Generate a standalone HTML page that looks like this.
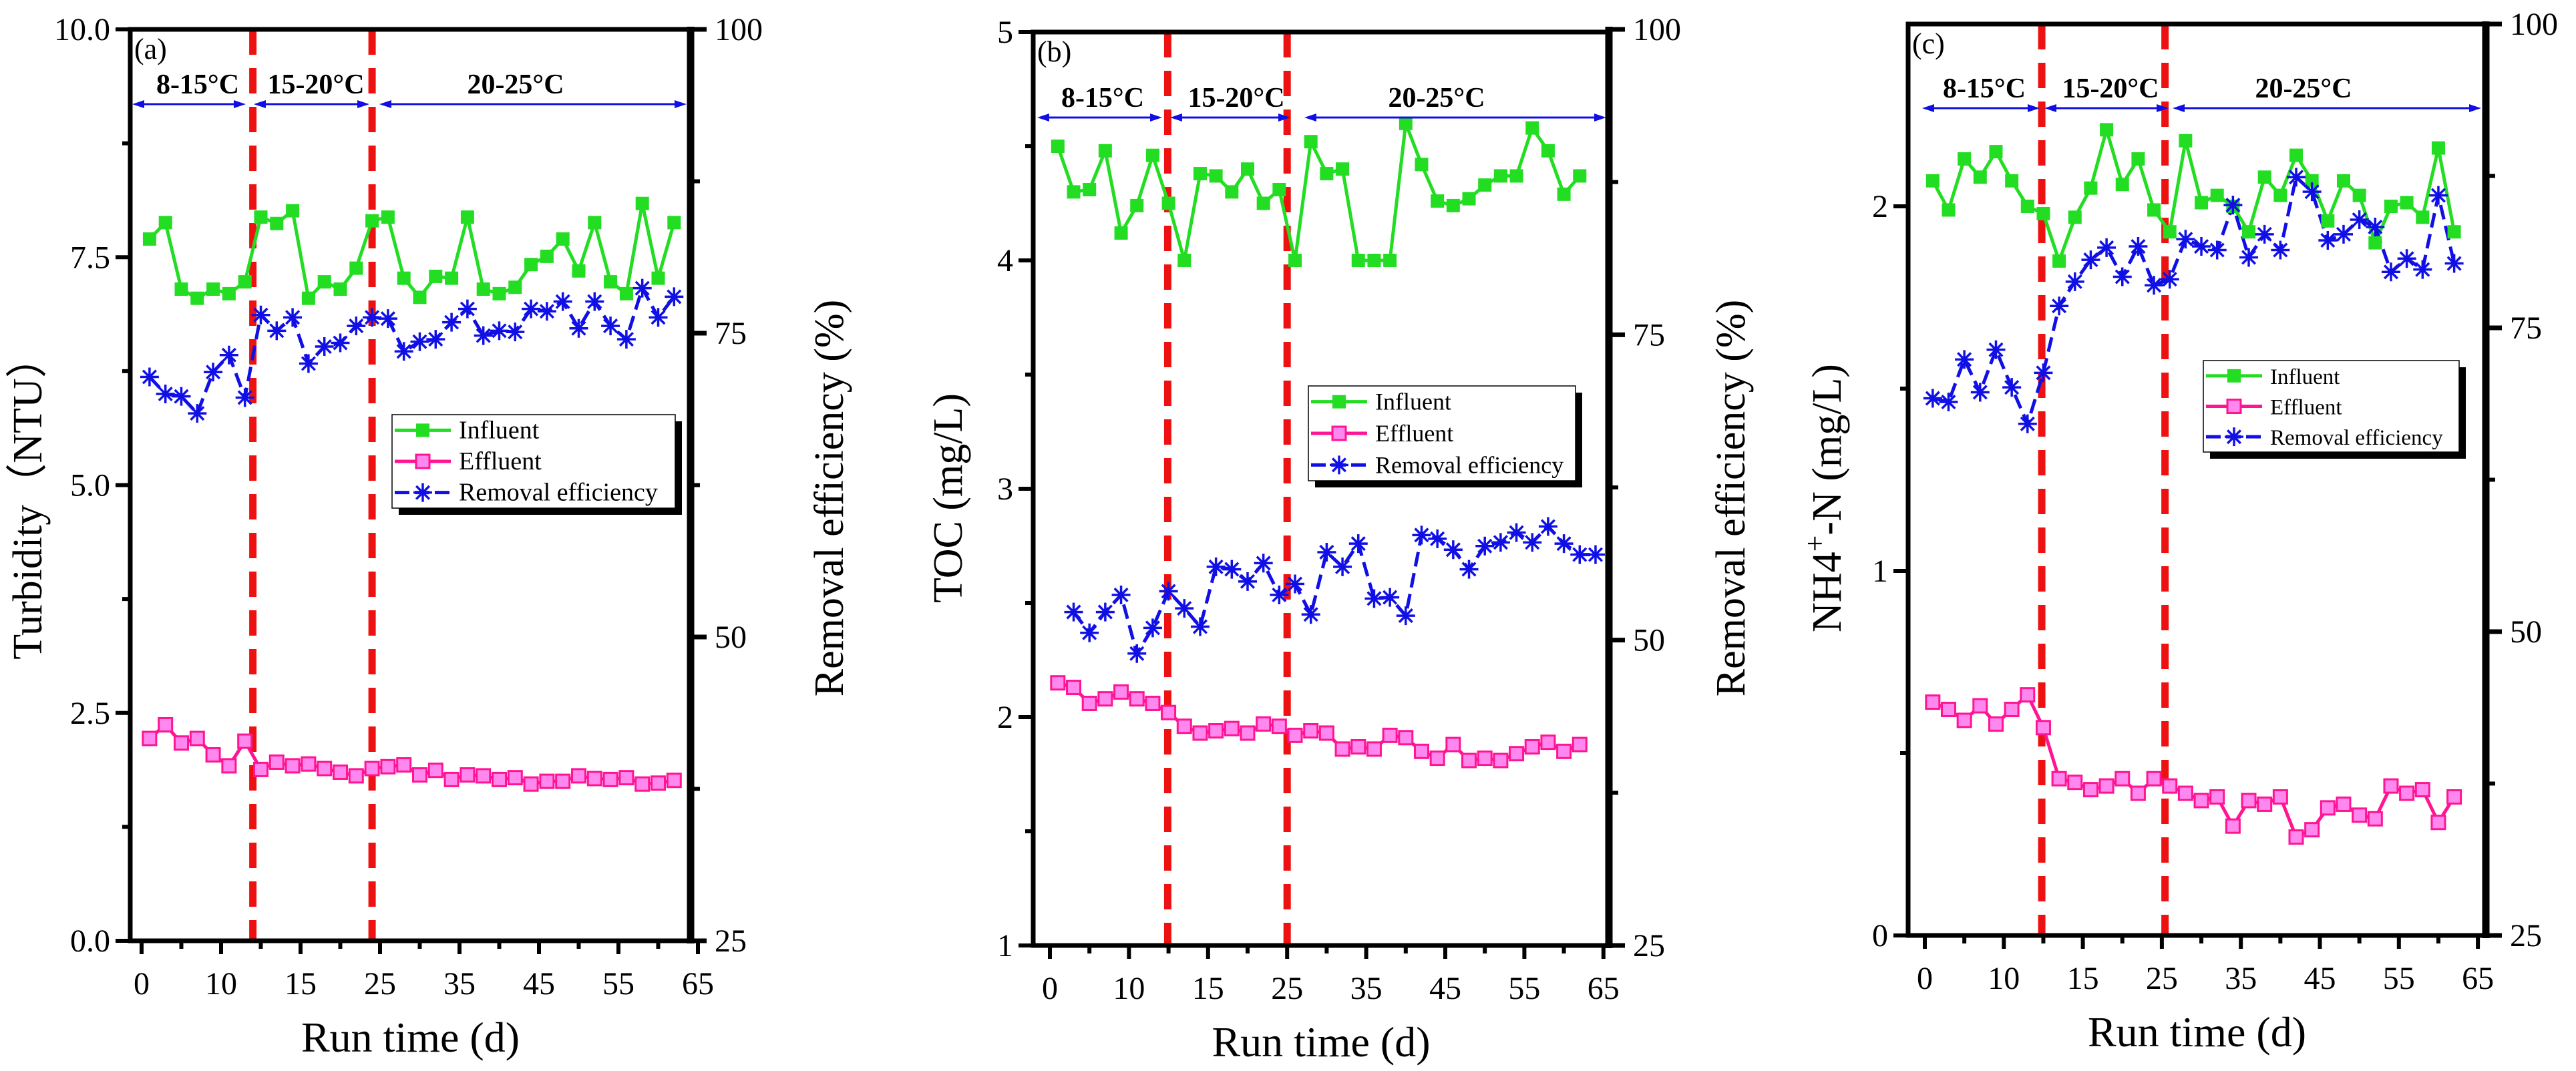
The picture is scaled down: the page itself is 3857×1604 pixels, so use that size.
<!DOCTYPE html>
<html><head><meta charset="utf-8"><style>
html,body{margin:0;padding:0;background:#fff;}
svg{display:block;}
svg text{font-family:"Liberation Serif","DejaVu Serif",serif;}
</style></head><body>
<svg id="chart" width="3857" height="1604" viewBox="0 0 3857 1604" xmlns="http://www.w3.org/2000/svg" font-family="Liberation Serif, serif"></svg>
<script>
// ---- shared data ----
const daysMain = [1,3,5,7,9,11,13,15,17,19,21,23,25,27,29,31,33,35,37,39,41,43,45,47,49,51,53,55,57,59,61,63,65,67];
const daysRemB = [3,5,7,9,11,13,15,17,19,21,23,25,27,29,31,33,35,37,39,41,43,45,47,49,51,53,55,57,59,61,63,65,67,69];
const xTickLabels = ["0","10","15","25","35","45","55","65"];
const rightTickLabels = ["25","50","75","100"];
// ---- panel a: turbidity ----
const influentA = [7.70,7.88,7.15,7.05,7.15,7.10,7.23,7.94,7.87,8.01,7.05,7.23,7.15,7.38,7.90,7.94,7.27,7.06,7.29,7.27,7.94,7.15,7.10,7.17,7.42,7.51,7.70,7.35,7.88,7.23,7.10,8.09,7.27,7.88];
const effluentA = [2.22,2.37,2.17,2.22,2.04,1.92,2.19,1.88,1.96,1.92,1.94,1.89,1.85,1.81,1.89,1.91,1.93,1.82,1.87,1.77,1.82,1.81,1.77,1.79,1.72,1.75,1.75,1.81,1.78,1.77,1.79,1.72,1.73,1.76];
const removalA = [71.4,70.0,69.8,68.4,71.8,73.2,69.7,76.5,75.2,76.3,72.5,73.9,74.2,75.6,76.3,76.2,73.5,74.3,74.5,75.9,77.0,74.8,75.2,75.1,77.0,76.8,77.6,75.4,77.6,75.6,74.5,78.7,76.3,78.0];
const leftTicksA = ["0.0","2.5","5.0","7.5","10.0"];
// ---- panel b: TOC ----
const influentB = [4.50,4.30,4.31,4.48,4.12,4.24,4.46,4.25,4.00,4.38,4.37,4.30,4.40,4.25,4.31,4.00,4.52,4.38,4.40,4.00,4.00,4.00,4.60,4.42,4.26,4.24,4.27,4.33,4.37,4.37,4.58,4.48,4.29,4.37];
const effluentB = [2.15,2.13,2.06,2.08,2.11,2.08,2.06,2.02,1.96,1.93,1.94,1.95,1.93,1.97,1.96,1.92,1.94,1.93,1.86,1.87,1.86,1.92,1.91,1.85,1.82,1.88,1.81,1.82,1.81,1.84,1.87,1.89,1.85,1.88];
const removalB = [52.3,50.6,52.3,53.7,48.9,51.0,54.0,52.6,51.1,56.0,55.8,54.8,56.3,53.7,54.6,52.1,57.2,56.0,57.9,53.4,53.5,52.0,58.6,58.3,57.4,55.8,57.7,58.0,58.8,58.0,59.3,57.9,57.0,57.0];
const leftTicksB = ["1","2","3","4","5"];
// ---- panel c: NH4+-N ----
const influentC = [2.07,1.99,2.13,2.08,2.15,2.07,2.00,1.98,1.85,1.97,2.05,2.21,2.06,2.13,1.99,1.93,2.18,2.01,2.03,2.00,1.93,2.08,2.03,2.14,2.07,1.96,2.07,2.03,1.90,2.00,2.01,1.97,2.16,1.93];
const effluentC = [0.64,0.62,0.59,0.63,0.58,0.62,0.66,0.57,0.43,0.42,0.40,0.41,0.43,0.39,0.43,0.41,0.39,0.37,0.38,0.30,0.37,0.36,0.38,0.27,0.29,0.35,0.36,0.33,0.32,0.41,0.39,0.40,0.31,0.38];
const removalC = [69.2,68.9,72.4,69.7,73.2,70.1,67.1,71.3,76.8,78.8,80.6,81.6,79.2,81.7,78.5,79.0,82.3,81.7,81.4,85.1,80.8,82.7,81.4,87.4,86.2,82.2,82.7,83.9,83.3,79.6,80.7,79.8,85.9,80.3];
const leftTicksC = ["0","1","2"];

const NS="http://www.w3.org/2000/svg";
const svg=document.getElementById('chart');
function mk(tag,attrs,parent){const e=document.createElementNS(NS,tag);for(const k in attrs)e.setAttribute(k,attrs[k]);(parent||svg).appendChild(e);return e;}
function txt(s,attrs,parent){attrs['font-family']='Liberation Serif, serif';const e=mk('text',attrs,parent);e.textContent=s;return e;}

const GREEN="#22dd22", PINK="#ff1493", BLUE="#1010e6";

function square(g,x,y,fill,stroke){
  const r=mk('rect',{x:x-10,y:y-10,width:20,height:20,fill:fill,stroke:stroke,'stroke-width':stroke?3:0},g);
  
  
}
function star(g,x,y){
  const s=14;
  const p=mk('path',{d:`M${x-s} ${y}H${x+s}M${x-s*0.7} ${y-s*0.7}L${x+s*0.7} ${y+s*0.7}M${x-s*0.7} ${y+s*0.7}L${x+s*0.7} ${y-s*0.7}M${x} ${y-s}V${y+s}`,stroke:BLUE,'stroke-width':3.5,fill:'none'},g);
  
  
}

function panel(o){
  const g=mk('g',{});
  
  
  const X=v=>o.x0+v*o.xs;
  const Y=v=>o.bottom-(v-o.ymin)/(o.ymax-o.ymin)*(o.bottom-o.top);
  const YR=v=>o.bottom-(v-25)/75*(o.bottom-o.rtop);
  o.splits.forEach(v=>{
    const l=mk('line',{x1:X(v),x2:X(v),y1:o.top,y2:o.bottom,stroke:'#ee1111','stroke-width':11,'stroke-dasharray':'38 20'},g);
    
    
  });
  function poly(xs,ys,yf,color,dash,name){
    const pts=xs.map((d,i)=>X(d).toFixed(1)+','+yf(ys[i]).toFixed(1)).join(' ');
    const p=mk('polyline',{points:pts,fill:'none',stroke:color,'stroke-width':5,'stroke-dasharray':dash||'none'},g);
    
    
  }
  poly(daysMain,o.inf,Y,GREEN,null,'influent-line');
  poly(daysMain,o.eff,Y,PINK,null,'effluent-line');
  poly(o.remDays,o.rem,YR,BLUE,'22 10','removal-efficiency-line');
  daysMain.forEach((d,i)=>square(g,X(d),Y(o.inf[i]),GREEN,null));
  daysMain.forEach((d,i)=>square(g,X(d),Y(o.eff[i]),'#ff88ee',PINK));
  o.remDays.forEach((d,i)=>star(g,X(d),YR(o.rem[i])));
  const fr=mk('rect',{x:o.left,y:o.top,width:o.right-o.left,height:o.bottom-o.top,fill:'none',stroke:'#000','stroke-width':7},g);
  
  
  mk('line',{x1:o.right,x2:o.right,y1:o.rtop-4,y2:o.bottom+4,stroke:'#000','stroke-width':11},g);
  o.lt.forEach((s,i)=>{
    const v=o.ymin+i*o.lstep; const y=Y(v);
    mk('line',{x1:o.left-22,x2:o.left,y1:y,y2:y,stroke:'#000','stroke-width':6},g);
    if(i<o.lt.length-1||o.ymax>v+o.lstep*0.6){const ym=Y(v+o.lstep/2);mk('line',{x1:o.left-12,x2:o.left,y1:ym,y2:ym,stroke:'#000','stroke-width':6},g);}
    const t=txt(s,{x:o.left-30,y:y+16,'text-anchor':'end','font-size':48},g);
    
    
  });
  rightTickLabels.forEach((s,i)=>{
    const v=25+i*25; const y=YR(v);
    mk('line',{x1:o.right,x2:o.right+24,y1:y,y2:y,stroke:'#000','stroke-width':7},g);
    if(i<3){const ym=YR(v+12.5);mk('line',{x1:o.right,x2:o.right+14,y1:ym,y2:ym,stroke:'#000','stroke-width':6},g);}
    const t=txt(s,{x:o.right+36,y:y+16,'font-size':48},g);
    
    
  });
  xTickLabels.forEach((s,i)=>{
    const x=X(i*10);
    mk('line',{x1:x,x2:x,y1:o.bottom,y2:o.bottom+20,stroke:'#000','stroke-width':6},g);
    if(i<7){const xm=X(i*10+5);mk('line',{x1:xm,x2:xm,y1:o.bottom,y2:o.bottom+12,stroke:'#000','stroke-width':6},g);}
    const t=txt(s,{x:x,y:o.bottom+80,'text-anchor':'middle','font-size':48},g);
    
    
  });
  let t=txt('Run time (d)',{x:(o.left+o.right)/2,y:o.bottom+166,'text-anchor':'middle','font-size':64},g);
  
  
  t=txt(o.ytitle,{x:0,y:0,'text-anchor':'middle','font-size':62,transform:`translate(${o.ytx},746) rotate(-90)`},g);
  
  
  if(o.ysup){t.textContent='';t.appendChild(document.createTextNode('NH4'));const ts=mk('tspan',{dy:-24,'font-size':44},t);ts.textContent='+';const t2=mk('tspan',{dy:24},t);t2.textContent='-N (mg/L)';}
  if(o.rtx){
    t=txt('Removal efficiency (%)',{x:0,y:0,'text-anchor':'middle','font-size':62,transform:`translate(${o.rtx},746) rotate(-90)`},g);
    
    
  }
  t=txt(o.tag,{x:o.left+6,y:o.top+44,'font-size':44},g);
  
  
  o.temps.forEach(tp=>{
    const a=mk('g',{},g);
    
    
    mk('line',{x1:tp.x1+14,x2:tp.x2-14,y1:o.ay,y2:o.ay,stroke:BLUE,'stroke-width':3},a);
    mk('path',{d:`M${tp.x1} ${o.ay}l18 -6v12z M${tp.x2} ${o.ay}l-18 -6v12z`,fill:BLUE},a);
    txt(tp.label,{x:tp.cx,y:o.ay-16,'text-anchor':'middle','font-size':42,'font-weight':'bold'},a);
  });
  const L=o.leg;
  const lg=mk('g',{},g);
  
  
  mk('rect',{x:L.x+10,y:L.y+10,width:L.w,height:L.h,fill:'#000'},lg);
  mk('rect',{x:L.x,y:L.y,width:L.w,height:L.h,fill:'#fff',stroke:'#000','stroke-width':1.5},lg);
  const rh=L.h/3;
  [['Influent',GREEN],['Effluent',PINK],['Removal efficiency',BLUE]].forEach((e,i)=>{
    const en=mk('g',{},lg);
    
    
    const y=L.y+rh*(i+0.5);
    mk('line',{x1:L.x+4,x2:L.x+88,y1:y,y2:y,stroke:e[1],'stroke-width':5,'stroke-dasharray':i==2?'22 8':'none'},en);
    if(i==0)square(en,L.x+46,y,GREEN,null);
    if(i==1)square(en,L.x+46,y,'#ff88ee',PINK);
    if(i==2)star(en,L.x+46,y);
    txt(e[0],{x:L.x+100,y:y+12,'font-size':L.fs},en);
  });
}

panel({name:'panel-a-turbidity',tag:'(a)',left:195,right:1034,top:44,bottom:1409,rtop:44,x0:212,xs:11.9,ymin:0,ymax:10,lstep:2.5,lt:leftTicksA,
  inf:influentA,eff:effluentA,rem:removalA,remDays:daysMain,splits:[14,29],ytitle:'Turbidity（NTU）',ytx:62,rtx:1262,
  ay:156,temps:[{x1:198,x2:368,cx:296,label:'8-15°C'},{x1:380,x2:553,cx:473,label:'15-20°C'},{x1:568,x2:1028,cx:772,label:'20-25°C'}],
  leg:{x:587,y:621,w:424,h:140,fs:38}});
panel({name:'panel-b-toc',tag:'(b)',left:1547,right:2409,top:48,bottom:1416,rtop:44,x0:1572,xs:11.84,ymin:1,ymax:5,lstep:1,lt:leftTicksB,
  inf:influentB,eff:effluentB,rem:removalB,remDays:daysRemB,splits:[14.9,30],ytitle:'TOC (mg/L)',ytx:1440,rtx:2612,
  ay:176,temps:[{x1:1553,x2:1740,cx:1651,label:'8-15°C'},{x1:1752,x2:1932,cx:1851,label:'15-20°C'},{x1:1953,x2:2405,cx:2151,label:'20-25°C'}],
  leg:{x:1959,y:578,w:400,h:142,fs:36}});
panel({name:'panel-c-ammonia',tag:'(c)',left:2857,right:3722,top:36,bottom:1401,rtop:36,x0:2882,xs:11.83,ymin:0,ymax:2.5,lstep:1,lt:leftTicksC,ysup:true,
  inf:influentC,eff:effluentC,rem:removalC,remDays:daysMain,splits:[14.8,30.4],ytitle:'NH4+-N (mg/L)',ytx:2756,rtx:0,
  ay:162,temps:[{x1:2878,x2:3054,cx:2971,label:'8-15°C'},{x1:3061,x2:3247,cx:3160,label:'15-20°C'},{x1:3253,x2:3715,cx:3449,label:'20-25°C'}],
  leg:{x:3299,y:540,w:383,h:137,fs:33}});
</script>
</body></html>
